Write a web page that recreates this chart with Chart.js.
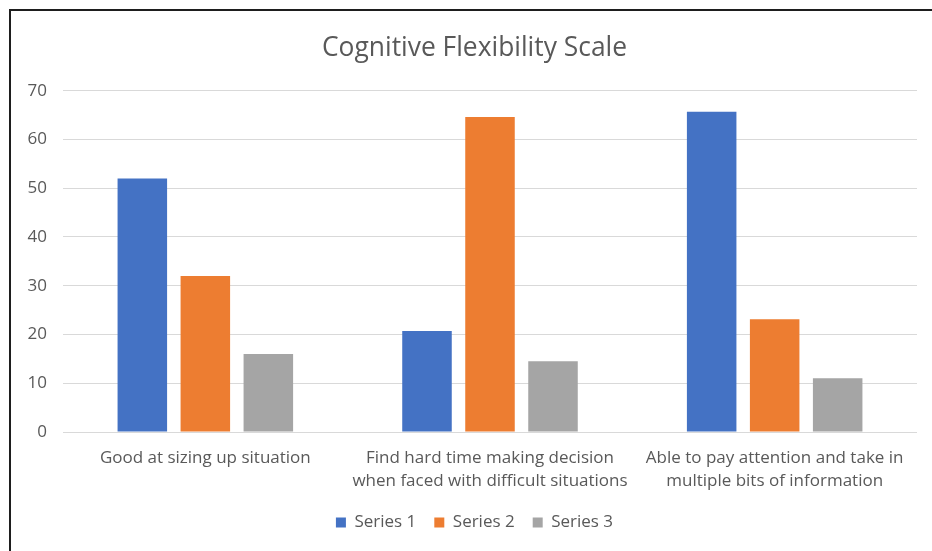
<!DOCTYPE html>
<html>
<head>
<meta charset="utf-8">
<script src="https://cdn.jsdelivr.net/npm/chart.js@4"></script>
<style>
  html, body { margin: 0; padding: 0; background: #fff; overflow: hidden; }
  #wrap { position: relative; width: 932px; height: 551px; }
  #frame { position: absolute; left: 9px; top: 9px; width: 940px; height: 560px; border: 2px solid #1e1e1e; box-sizing: border-box; }
  #chart { position: absolute; left: 0; top: 0; }
</style>
</head>
<body>
<div id="wrap">
  <div id="frame"></div>
  <canvas id="chart" width="932" height="551"></canvas>
</div>
<script>
// Categories (x axis), drawn on two lines where needed
const categories = [
  ["Good at sizing up situation"],
  ["Find hard time making decision", "when faced with difficult situations"],
  ["Able to pay attention and take in", "multiple bits of information"]
];

// Series values
const series1 = [52, 20.7, 65.7];
const series2 = [32, 64.6, 23.1];
const series3 = [16, 14.5, 11];

const seriesNames = ["Series 1", "Series 2", "Series 3"];
const seriesColors = ["#4472C4", "#ED7D31", "#A5A5A5"];

// Y axis range
const yMin = 0, yMax = 70, yStep = 10;

const FONT = "'Open Sans', 'Noto Sans', sans-serif";
const TEXT = "#595959";

// The y scale box is kept narrow so the title and legend sit centred on the
// frame; widen its label clip region back to the canvas edge after layout.
const yLabelRoom = {
  id: "yLabelRoom",
  afterLayout(chart) { chart.scales.y.left = 0; }
};

const ctx = document.getElementById("chart").getContext("2d");
new Chart(ctx, {
  type: "bar",
  data: {
    labels: categories,
    datasets: [series1, series2, series3].map((vals, i) => ({
      label: seriesNames[i],
      data: vals,
      backgroundColor: seriesColors[i],
      borderWidth: 0,
      categoryPercentage: 0.664,
      barPercentage: 0.786
    }))
  },
  plugins: [yLabelRoom],
  options: {
    responsive: false,
    animation: false,
    devicePixelRatio: 1,
    layout: { padding: { left: 32, right: 15, top: 0, bottom: 10 } },
    plugins: {
      title: {
        display: true,
        text: "Cognitive Flexibility Scale",
        color: TEXT,
        font: { family: FONT, size: 26.4, weight: "normal" },
        padding: { top: 33, bottom: 26 }
      },
      legend: {
        position: "bottom",
        labels: {
          color: TEXT,
          font: { family: FONT, size: 17 },
          boxWidth: 10,
          boxHeight: 10,
          padding: 18
        }
      },
      tooltip: { enabled: false }
    },
    scales: {
      x: {
        grid: { display: false, drawTicks: false },
        border: { display: false },
        ticks: {
          color: TEXT,
          font: { family: FONT, size: 17, lineHeight: 1.35 },
          padding: 15,
          maxRotation: 0,
          autoSkip: false
        },
        afterFit(scale) { scale.height = 64; }
      },
      y: {
        min: yMin,
        max: yMax,
        grid: { color: "#d9d9d9", lineWidth: 1, drawTicks: false },
        border: { display: false },
        ticks: {
          stepSize: yStep,
          color: TEXT,
          font: { family: FONT, size: 17 },
          padding: 16
        },
        afterFit(scale) { scale.width = 31; }
      }
    }
  }
});
</script>
</body>
</html>
